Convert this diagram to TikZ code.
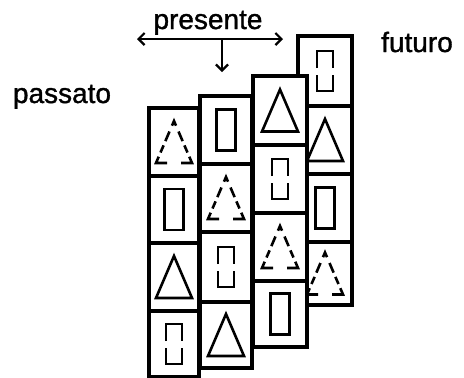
\documentclass[tikz,border=0pt]{standalone}
\usepackage{fontspec}
\setmainfont{Liberation Sans}
\newfontfamily\lblfont[FakeBold=1.2]{Liberation Sans}
\usetikzlibrary{arrows.meta}
\tikzset{
  cellbox/.style={draw, fill=white, line width=3.2pt, inner sep=0pt, outer sep=0pt},
  shp/.style={line width=2.6pt, line join=miter, line cap=butt},
  lbl/.style={font=\lblfont\fontsize{28}{32}\selectfont, inner sep=0pt, anchor=base},
  barb/.tip={Straight Barb[length=6pt,width=12pt,line width=2.2pt]},
  arr/.style={line width=2.4pt, -barb},
  pics/tri/.style={code={\draw[shp] (0,-21) -- (18,21) -- (-18,21) -- cycle;}},
  pics/rct/.style={code={\draw[shp] (-9.5,-20.5) rectangle (9.5,20.5);}},
  pics/drct/.style={code={
    \draw[shp] (-8,-3) -- (-8,-20) -- (8,-20) -- (8,-3);
    \draw[shp] (-8,4) -- (-8,20) -- (8,20) -- (8,4);}},
  pics/dtri/.style={code={
    \draw[shp] (-2,-16.3) -- (0,-21) -- (2,-16.3);
    \draw[shp] (-4.5,-10.5) -- (-8.6,-0.9);
    \draw[shp] (4.5,-10.5) -- (8.6,-0.9);
    \draw[shp] (-10.4,3.4) -- (-13.5,10.5);
    \draw[shp] (10.4,3.4) -- (13.5,10.5);
    \draw[shp] (-15.3,14.7) -- (-18,21) -- (-7,21);
    \draw[shp] (15.3,14.7) -- (18,21) -- (7,21);}},
}
\begin{document}
\begin{tikzpicture}[x={(1pt,0)}, y={(0,-1pt)}]
\useasboundingbox (0,0) rectangle (464,378);
% column 4 (back)
\node[cellbox, minimum width=54pt, minimum height=70pt] (d1) at (325,71) {};
\node[cellbox, minimum width=54pt, minimum height=68pt] (d2) at (325,140) {};
\node[cellbox, minimum width=54pt, minimum height=68pt] (d3) at (325,208) {};
\node[cellbox, minimum width=54pt, minimum height=63pt] (d4) at (325,273.5) {};
\pic at (d1) {drct};
\pic at (d2) {tri};
\pic at (d3) {rct};
\pic at (d4) {dtri};
% column 3
\node[cellbox, minimum width=54pt, minimum height=69pt] (c1) at (280,110.5) {};
\node[cellbox, minimum width=54pt, minimum height=68pt] (c2) at (280,179) {};
\node[cellbox, minimum width=54pt, minimum height=68pt] (c3) at (280,247) {};
\node[cellbox, minimum width=54pt, minimum height=66pt] (c4) at (280,314) {};
\pic at (c1) {tri};
\pic at (c2) {drct};
\pic at (c3) {dtri};
\pic at (c4) {rct};
% column 2
\node[cellbox, minimum width=52pt, minimum height=68pt] (b1) at (226,130) {};
\node[cellbox, minimum width=52pt, minimum height=68pt] (b2) at (226,198) {};
\node[cellbox, minimum width=52pt, minimum height=70pt] (b3) at (226,267) {};
\node[cellbox, minimum width=52pt, minimum height=66pt] (b4) at (226,335) {};
\pic at (b1) {rct};
\pic at (b2) {dtri};
\pic at (b3) {drct};
\pic at (b4) {tri};
% column 1 (front)
\node[cellbox, minimum width=50pt, minimum height=68pt] (a1) at (174,142) {};
\node[cellbox, minimum width=50pt, minimum height=67pt] (a2) at (174,209.5) {};
\node[cellbox, minimum width=50pt, minimum height=68pt] (a3) at (174,277) {};
\node[cellbox, minimum width=50pt, minimum height=66pt] (a4) at (174,344) {};
\pic at (a1) {dtri};
\pic at (a2) {rct};
\pic at (a3) {tri};
\pic at (a4) {drct};
% labels
\node[lbl] (pres) at (208,29) {presente};
\node[lbl] (fut) at (417,52) {futuro};
\node[lbl] (pas) at (62,103) {passato};
% arrows
\coordinate (L) at (137,39);
\coordinate (R) at (283,39);
\coordinate (M) at (222,39);
\coordinate (D) at (222,72);
\draw[arr, barb-barb] (L) -- (R);
\draw[arr] (M) -- (D);
\end{tikzpicture}
\end{document}
